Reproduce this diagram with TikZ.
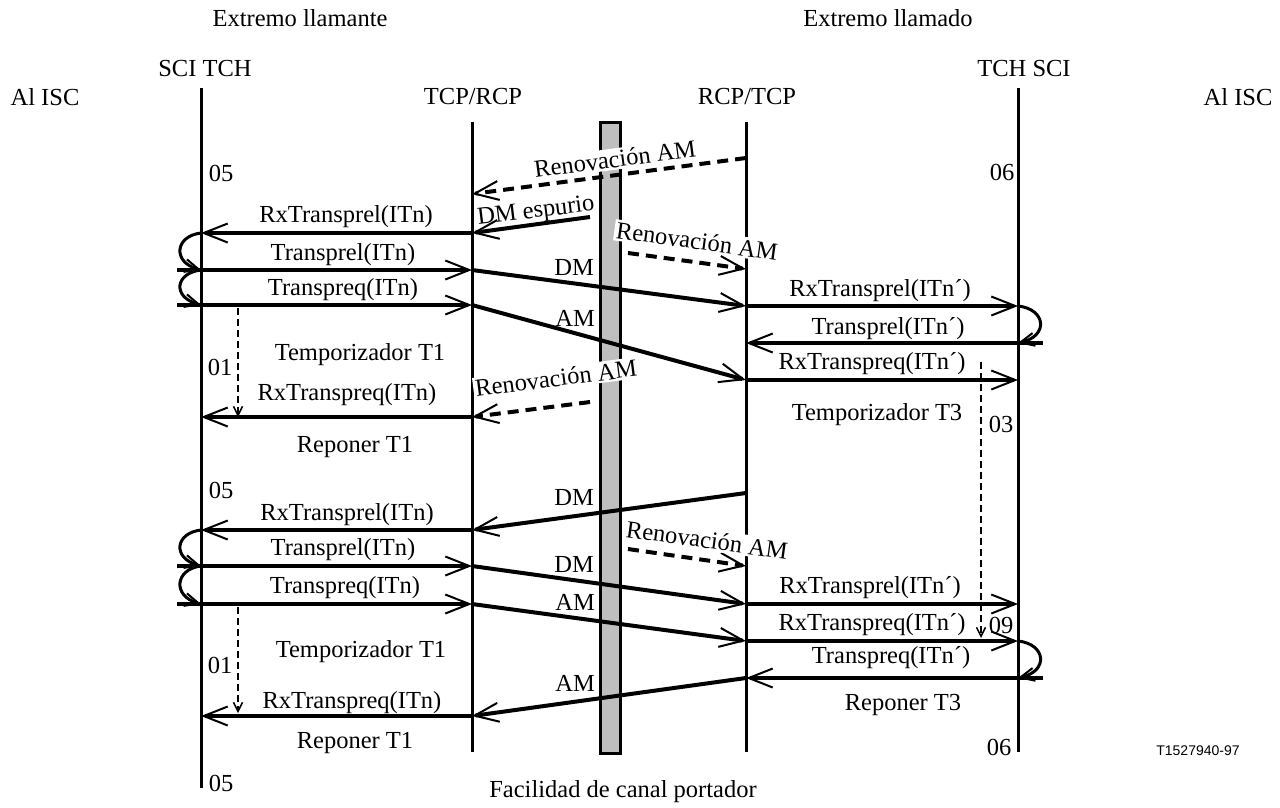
\documentclass[tikz,border=0pt]{standalone}
\usepackage{fontspec}
\setmainfont{Liberation Serif}
\usetikzlibrary{arrows.meta}
\begin{document}
\begin{tikzpicture}[x=1pt,y=-1pt,
  txt/.style={font=\fontsize{24.5}{28}\selectfont, inner sep=0pt},
  wtxt/.style={txt, fill=white, inner sep=2pt},
  life/.style={line width=3pt},
  msg/.style={line width=4pt, -{Straight Barb[length=24pt,width=19pt,line width=2pt]}},
  ren/.style={msg, dash pattern=on 11pt off 7pt},
  loopar/.style={line width=3pt, -{Straight Barb[length=14pt,width=13pt,line width=2pt]}},
  tmr/.style={line width=2pt, dash pattern=on 7pt off 4pt, -{Straight Barb[length=9pt,width=9pt,line width=1.5pt]}}
]
\useasboundingbox (0,0) rectangle (1280,807);

% headers
\node[txt] (hl) at (300,18) {Extremo llamante};
\node[txt] (hr) at (888,18) {Extremo llamado};
\node[txt] (sci1) at (205,69) {SCI TCH};
\node[txt] (tch2) at (1024,69) {TCH SCI};
\node[txt] (isc1) at (45,97) {Al ISC};
\node[txt] (isc2) at (1238,97) {Al ISC};
\node[txt] (tcp1) at (473,97) {TCP/RCP};
\node[txt] (rcp2) at (747,97) {RCP/TCP};

% lifelines and bearer bar
\draw[life] (201,88) -- (201,788);
\draw[life] (472,122) -- (472,752);
\draw[life] (746,122) -- (746,752);
\draw[life] (1018,88) -- (1018,752);
\draw[line width=3pt, fill=black!25] (600,122) rectangle (620,753);

% coordinates, block 1
\coordinate (r1s) at (746,158);  \coordinate (r1e) at (472,194);
\coordinate (es) at (590,217);   \coordinate (ee) at (472,233);
\coordinate (a233) at (201,233); \coordinate (b233) at (472,233);
\coordinate (a270) at (201,270); \coordinate (o270) at (177,270); \coordinate (b270) at (472,270);
\coordinate (a305) at (201,305); \coordinate (o305) at (177,305); \coordinate (b305) at (472,305);
\coordinate (c306) at (746,306); \coordinate (d306) at (1018,306);
\coordinate (d343) at (1018,343); \coordinate (p343) at (1043,343); \coordinate (c343) at (746,343);
\coordinate (c380) at (746,380); \coordinate (d380) at (1018,380);
\coordinate (t1s) at (238,308);  \coordinate (t1e) at (238,417);
\coordinate (r2s) at (590,402);  \coordinate (r2e) at (472,417);
\coordinate (a417) at (201,417);
\coordinate (r3s) at (628,253);  \coordinate (r3e) at (746,269);
\coordinate (t3s) at (981,362);  \coordinate (t3e) at (981,638);

% coordinates, block 2
\coordinate (c493) at (746,493); \coordinate (b530) at (472,530); \coordinate (a530) at (201,530);
\coordinate (a566) at (201,566); \coordinate (o566) at (177,566); \coordinate (b566) at (472,566);
\coordinate (r4s) at (628,549);  \coordinate (r4e) at (746,566);
\coordinate (c604) at (746,604); \coordinate (d604) at (1018,604);
\coordinate (a604) at (201,604); \coordinate (o604) at (177,604); \coordinate (b604) at (472,604);
\coordinate (c641) at (746,641); \coordinate (d641) at (1018,641);
\coordinate (d678) at (1018,678); \coordinate (p678) at (1043,678); \coordinate (c678) at (746,678);
\coordinate (b716) at (472,716); \coordinate (a716) at (201,716);
\coordinate (t2s) at (238,607);  \coordinate (t2e) at (238,713);

% messages block 1
\draw[ren] (r1s) -- (r1e);
\draw[msg] (es) -- (ee);
\draw[msg] (b233) -- (a233);
\draw[loopar] (a233) .. controls (175,236) and (172,262) .. (a270);
\draw[msg] (o270) -- (b270);
\draw[msg] (b270) -- (c306);
\draw[loopar] (a270) .. controls (175,273) and (172,297) .. (a305);
\draw[msg] (o305) -- (b305);
\draw[msg] (b305) -- (c380);
\draw[tmr] (t1s) -- (t1e);
\draw[ren] (r2s) -- (r2e);
\draw[msg] (r2e) -- (a417);
\draw[ren] (r3s) -- (r3e);
\draw[msg] (c306) -- (d306);
\draw[loopar] (d306) .. controls (1046,309) and (1049,336) .. (d343);
\draw[msg] (p343) -- (c343);
\draw[msg] (c380) -- (d380);
\draw[tmr] (t3s) -- (t3e);

% messages block 2
\draw[msg] (c493) -- (b530);
\draw[msg] (b530) -- (a530);
\draw[loopar] (a530) .. controls (175,533) and (172,558) .. (a566);
\draw[msg] (o566) -- (b566);
\draw[ren] (r4s) -- (r4e);
\draw[msg] (b566) -- (c604);
\draw[loopar] (a566) .. controls (175,569) and (172,596) .. (a604);
\draw[msg] (o604) -- (b604);
\draw[msg] (b604) -- (c641);
\draw[msg] (c604) -- (d604);
\draw[msg] (c641) -- (d641);
\draw[loopar] (d641) .. controls (1046,644) and (1049,671) .. (d678);
\draw[msg] (p678) -- (c678);
\draw[msg] (c678) -- (b716);
\draw[msg] (b716) -- (a716);
\draw[tmr] (t2s) -- (t2e);

% labels block 1
\node[txt] (n05a) at (221,173) {05};
\node[txt] (n06a) at (1002,172) {06};
\node[wtxt, rotate=7.5] (lr1) at (615,159) {Renovación AM};
\node[txt, rotate=7] (lesp) at (536,212) {DM espurio};
\node[txt] (l1) at (346,217) {RxTransprel(ITn)};
\node[txt] (l2) at (343,255) {Transprel(ITn)};
\node[txt, anchor=east] (ldm1) at (594,267) {DM};
\node[txt] (l3) at (343,290) {Transpreq(ITn)};
\node[txt, anchor=east] (lam1) at (595,318) {AM};
\node[txt] (l4) at (360,355) {Temporizador T1};
\node[txt] (n01a) at (220,367) {01};
\node[wtxt, rotate=7.3] (lr2) at (556,378) {Renovación AM};
\node[txt] (l5) at (347,395) {RxTranspreq(ITn)};
\node[txt] (l6) at (355,447) {Reponer T1};
\node[wtxt, rotate=-7.8] (lr3) at (697,241) {Renovación AM};
\node[txt] (l7) at (880,291) {RxTransprel(ITn´)};
\node[txt] (l8) at (888,329) {Transprel(ITn´)};
\node[txt] (l9) at (872,364) {RxTranspreq(ITn´)};
\node[txt] (l10) at (877,415) {Temporizador T3};
\node[txt] (n03) at (1001,424) {03};

% labels block 2
\node[txt] (n05b) at (221,490) {05};
\node[txt, anchor=east] (ldm2) at (594,497) {DM};
\node[txt] (l11) at (347,515) {RxTransprel(ITn)};
\node[txt] (l12) at (343,550) {Transprel(ITn)};
\node[wtxt, rotate=-7.8] (lr4) at (707,540) {Renovación AM};
\node[txt, anchor=east] (ldm3) at (594,564) {DM};
\node[txt] (l13) at (345,588) {Transpreq(ITn)};
\node[txt, anchor=east] (lam2) at (595,602) {AM};
\node[txt] (l14) at (870,588) {RxTransprel(ITn´)};
\node[txt] (l15) at (872,625) {RxTranspreq(ITn´)};
\node[txt] (n09) at (1001,625) {09};
\node[txt] (l16) at (361,652) {Temporizador T1};
\node[txt] (n01b) at (220,665) {01};
\node[txt] (l17) at (891,658) {Transpreq(ITn´)};
\node[txt, anchor=east] (lam3) at (595,683) {AM};
\node[txt] (l18) at (352,703) {RxTranspreq(ITn)};
\node[txt] (l19) at (903,705) {Reponer T3};
\node[txt] (l20) at (355,743) {Reponer T1};
\node[txt] (n06b) at (999,747) {06};
\node[txt] (n05c) at (221,783) {05};
\node[txt] (lfac) at (623,792) {Facilidad de canal portador};
\node[font=\fontsize{14}{16}\selectfont\fontspec{Liberation Sans}, inner sep=0pt] (code) at (1198,751) {T1527940-97};
\end{tikzpicture}
\end{document}
